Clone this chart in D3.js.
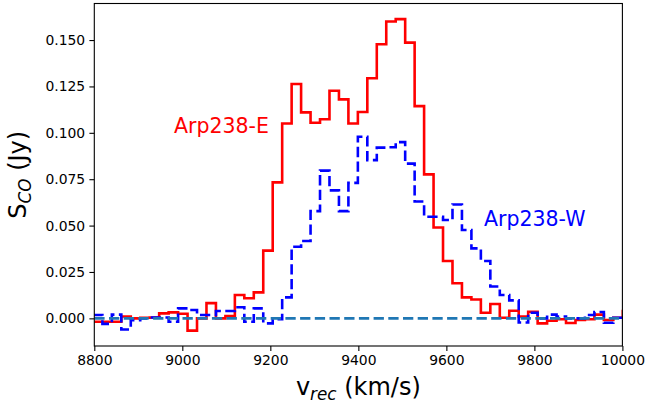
<!DOCTYPE html>
<html>
<head>
<meta charset="utf-8">
<script src="https://cdn.jsdelivr.net/npm/d3@7"></script>
<style>
html, body { margin: 0; padding: 0; background: #fff; }
svg { display: block; }
text { font-family: "DejaVu Sans", sans-serif; }
</style>
</head>
<body>
<div id="chart"></div>
<script>
// Channel edges (km/s), one more than the number of channels
const channelEdges = [8796.9, 8818.4, 8839.9, 8861.4, 8882.9, 8904.4, 8925.9, 8947.4, 8968.9, 8990.4,
  9011.9, 9033.4, 9054.9, 9076.4, 9097.9, 9119.4, 9140.9, 9162.4, 9183.9, 9205.4,
  9226.9, 9248.4, 9269.9, 9291.4, 9312.9, 9334.4, 9355.9, 9377.4, 9398.9, 9420.4,
  9441.9, 9463.4, 9484.9, 9506.4, 9527.9, 9549.4, 9570.9, 9592.4, 9613.9, 9635.4,
  9656.9, 9678.4, 9699.9, 9721.4, 9742.9, 9764.4, 9785.9, 9807.4, 9828.9, 9850.4,
  9871.9, 9893.4, 9914.9, 9936.4, 9957.9, 9979.4, 10000.9, 10022.4];

// Arp238-E flux per channel (Jy)
const fluxEast = [-0.0018, -0.0018, -0.0018, 0.0010, 0.0000, 0.0003, 0.0005, 0.0027, 0.0032, 0.0025,
  -0.0066, 0.0000, 0.0082, 0.0000, 0.0012, 0.0126, 0.0108, 0.0140, 0.0365, 0.0733,
  0.1050, 0.1263, 0.1110, 0.1054, 0.1073, 0.1227, 0.1180, 0.1050, 0.1112, 0.1294,
  0.1477, 0.1600, 0.1613, 0.1486, 0.1144, 0.0776, 0.0490, 0.0309, 0.0189, 0.0113,
  0.0102, 0.0030, 0.0077, 0.0003, 0.0041, 0.0010, 0.0036, -0.0027, -0.0013, -0.0005,
  -0.0025, -0.0009, -0.0005, 0.0020, -0.0009, 0.0003, 0.0040];

// Arp238-W flux per channel (Jy)
const fluxWest = [0.0018, -0.0030, 0.0020, -0.0060, -0.0010, 0.0000, 0.0005, 0.0005, -0.0018, 0.0054,
  0.0045, 0.0018, 0.0018, 0.0040, 0.0040, 0.0060, -0.0018, 0.0054, -0.0027, -0.0005,
  0.0113, 0.0386, 0.0417, 0.0578, 0.0796, 0.0690, 0.0578, 0.0730, 0.0979, 0.0853,
  0.0920, 0.0922, 0.0950, 0.0834, 0.0630, 0.0548, 0.0548, 0.0530, 0.0614, 0.0476,
  0.0377, 0.0309, 0.0172, 0.0126, 0.0097, -0.0022, 0.0030, 0.0000, 0.0020, 0.0010,
  0.0000, 0.0000, 0.0018, 0.0034, -0.0024, 0.0003, 0.0010];

const xTicks = [8800, 9000, 9200, 9400, 9600, 9800, 10000];
const yTicks = [0.000, 0.025, 0.050, 0.075, 0.100, 0.125, 0.150];
const seriesLabels = ["Arp238-E", "Arp238-W"];

(function () {
const W = 647, H = 406;
const mL = 94.3, mR = 622.4, mT = 3.5, mB = 346;

const svg = d3.select("#chart").append("svg")
  .attr("width", W).attr("height", H)
  .attr("viewBox", `0 0 ${W} ${H}`);
svg.append("rect").attr("width", W).attr("height", H).attr("fill", "#fff");

const x = d3.scaleLinear().domain([8800, 10000]).range([mL, mR]);
const y = d3.scaleLinear().domain([-0.0149, 0.1697]).range([mB, mT]);

svg.append("clipPath").attr("id", "clip")
  .append("rect").attr("x", mL).attr("y", mT)
  .attr("width", mR - mL).attr("height", mB - mT);

const plot = svg.append("g").attr("clip-path", "url(#clip)");

function stepPoints(vals) {
  const pts = vals.map((v, i) => [channelEdges[i], v]);
  pts.push([channelEdges[vals.length], vals[vals.length - 1]]);
  return pts;
}
const line = d3.line().x(d => x(d[0])).y(d => y(d[1])).curve(d3.curveStepAfter);

plot.append("path").attr("d", line(stepPoints(fluxEast)))
  .attr("fill", "none").attr("stroke", "#ff0000").attr("stroke-width", 2.6)
  .attr("stroke-linejoin", "miter");
plot.append("path").attr("d", line(stepPoints(fluxWest)))
  .attr("fill", "none").attr("stroke", "#0000ff").attr("stroke-width", 2.6)
  .attr("stroke-dasharray", "10.3,4.4");

// zero line
plot.append("path").attr("d", line([[8800, 0], [10000, 0]]))
  .attr("fill", "none").attr("stroke", "#1f77b4").attr("stroke-width", 2.6)
  .attr("stroke-dasharray", "10.3,4.4");

// axes
const xAxis = d3.axisBottom(x).tickValues(xTicks).tickSize(4.9).tickPadding(4.2).tickFormat(d3.format("d"));
const gx = svg.append("g").attr("transform", `translate(0,${mB})`).call(xAxis);
const yAxis = d3.axisLeft(y).tickValues(yTicks).tickSize(4.9).tickPadding(4.2).tickFormat(d3.format(".3f"));
const gy = svg.append("g").attr("transform", `translate(${mL},0)`).call(yAxis);
[gx, gy].forEach(g => {
  g.select(".domain").remove();
  g.selectAll(".tick line").attr("stroke", "#000").attr("stroke-width", 1.1);
  g.selectAll(".tick text").attr("fill", "#000").attr("font-size", 13.9)
    .attr("font-family", "DejaVu Sans, sans-serif");
});

// frame
svg.append("rect").attr("x", mL).attr("y", mT)
  .attr("width", mR - mL).attr("height", mB - mT)
  .attr("fill", "none").attr("stroke", "#000").attr("stroke-width", 1.1);

// axis labels
const xl = svg.append("text").attr("x", (mL + mR) / 2).attr("y", 395)
  .attr("text-anchor", "middle").attr("font-size", 24).attr("fill", "#000");
xl.append("tspan").text("v");
xl.append("tspan").attr("font-size", 16.8).attr("font-style", "italic").attr("dy", 5).text("rec");
xl.append("tspan").attr("dy", -5).text(" (km/s)");

const yl = svg.append("text")
  .attr("transform", `translate(26,${(mT + mB) / 2}) rotate(-90)`)
  .attr("text-anchor", "middle").attr("font-size", 24).attr("fill", "#000");
yl.append("tspan").text("S");
yl.append("tspan").attr("font-size", 16.8).attr("font-style", "italic").attr("dy", 5).text("CO");
yl.append("tspan").attr("dy", -5).text(" (Jy)");

// series annotations
svg.append("text").attr("x", 174).attr("y", 132.7).attr("font-size", 20.5)
  .attr("fill", "#ff0000").text(seriesLabels[0]);
svg.append("text").attr("x", 484).attr("y", 225.7).attr("font-size", 20.5)
  .attr("fill", "#0000ff").text(seriesLabels[1]);
})();
</script>
</body>
</html>
